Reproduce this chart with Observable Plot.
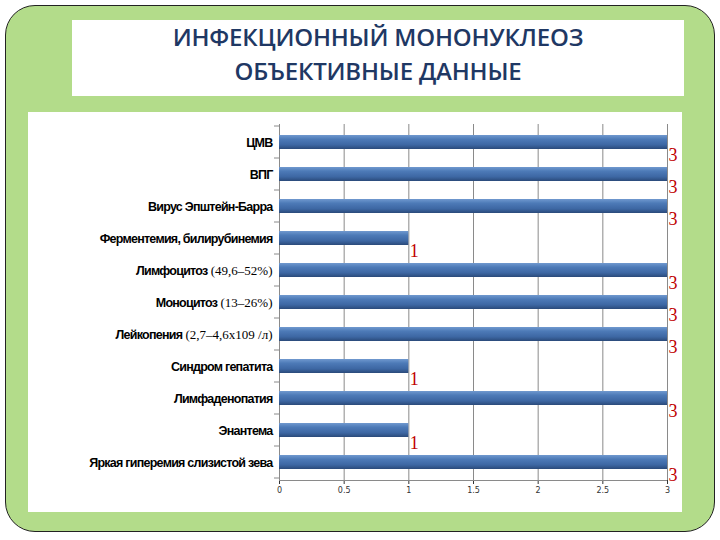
<!DOCTYPE html>
<html><head><meta charset="utf-8">
<script src="https://cdn.jsdelivr.net/npm/d3@7"></script>
<script src="https://cdn.jsdelivr.net/npm/@observablehq/plot@0.6"></script>
<style>
body{margin:0;width:720px;height:540px;background:#fff;position:relative;overflow:hidden}
#frame{position:absolute;left:5px;top:5px;width:710px;height:527px;background:#b3dc8a;border:1.5px solid #222;border-radius:30px;box-sizing:border-box}
#title{position:absolute;left:72px;top:20px;width:612px;height:76px;background:#fff;text-align:center;font-family:"Open Sans";font-weight:600;color:#1f3864;font-size:24px;line-height:34px;padding-top:0px;box-sizing:border-box;letter-spacing:-0.2px}
#panel{position:absolute;left:28px;top:112px;width:654px;height:400px;background:#fff}
#panel svg{overflow:visible;position:absolute;left:0;top:0}
</style></head>
<body>
<div id="frame"></div>
<div id="title">ИНФЕКЦИОННЫЙ МОНОНУКЛЕОЗ<br>ОБЪЕКТИВНЫЕ ДАННЫЕ</div>
<div id="panel"></div>
<script>
const mainLabels = ["ЦМВ","ВПГ","Вирус Эпштейн-Барра","Ферментемия, билирубинемия","Лимфоцитоз","Моноцитоз","Лейкопения","Синдром гепатита","Лимфаденопатия","Энантема","Яркая гиперемия слизистой зева"];
const noteLabels = ["","","","","(49,6–52%)","(13–26%)","(2,7–4,6х109 /л)","","","",""];
const values = [3,3,3,1,3,3,3,1,3,1,3];
const xTicks = [0,0.5,1,1.5,2,2.5,3];

const data = mainLabels.map((m,i)=>({cat: m + (noteLabels[i] ? " " + noteLabels[i] : ""), main: m, note: noteLabels[i], value: values[i]}));
const categories = data.map(d=>d.cat);

const defsMark = () => {
  const g = d3.create("svg:g");
  const grad = g.append("defs").append("linearGradient").attr("id","barGrad").attr("x1",0).attr("y1",0).attr("x2",0).attr("y2",1);
  [["0%","#7099cf"],["30%","#4d7ab7"],["70%","#3d67a3"],["100%","#2a4a7a"]].forEach(([o,c])=>grad.append("stop").attr("offset",o).attr("stop-color",c));
  return g.node();
};
const bottomLine = (index, scales, values, dims) => {
  const g = d3.create("svg:g");
  g.append("line").attr("x1",dims.marginLeft).attr("x2",dims.width-dims.marginRight)
   .attr("y1",dims.height-dims.marginBottom+0.5).attr("y2",dims.height-dims.marginBottom+0.5)
   .attr("stroke","#8a8a8a");
  return g.node();
};

const plot = Plot.plot({
  width: 654, height: 400,
  marginLeft: 251, marginRight: 15, marginTop: 12, marginBottom: 32,
  style: {background: "transparent", overflow: "visible", fontFamily: "DejaVu Sans", fontSize: "8px", color: "#333"},
  x: {domain: [0,3], ticks: xTicks, tickFormat: d=>String(d), tickSize: 4, tickPadding: 3, label: null},
  y: {domain: categories, paddingInner: 0.57, paddingOuter: 0.285, axis: null},
  marks: [
    defsMark,
    Plot.ruleX(xTicks, {stroke: "#8a8a8a", strokeWidth: 1}),
    bottomLine,
    Plot.barX(data, {x: "value", y: "cat", fill: "url(#barGrad)"}),
    Plot.text(data, {x: "value", y: "cat", text: d=>String(d.value), textAnchor: "start", dx: 1, dy: 13, fill: "#c00000", fontSize: 18, fontFamily: "Liberation Serif"}),
    Plot.text(data, {x: 0, y: "cat", text: "main", textAnchor: "end", dx: -7, fontSize: 12.5, fontWeight: "bold", fontFamily: "Liberation Sans", fill: "#000"})
  ]
});
document.getElementById("panel").appendChild(plot);

// condensed bold look + serif parenthetical parts
d3.select(plot).selectAll("text").each(function(){
  const t = d3.select(this);
  const i = mainLabels.indexOf(this.textContent);
  if (i < 0) return;
  t.attr("letter-spacing", "-0.75px");
  const d = data[i];
  if (d.note) {
    t.append("tspan").attr("font-family","Liberation Serif").attr("font-weight","normal").attr("letter-spacing","0px").attr("font-size","13px").text(" " + d.note);
  }
});
// boundary ticks on the category axis
const ys = plot.scale("y"), xs = plot.scale("x");
const x0 = xs.apply(0);
const first = ys.apply(categories[0]) + ys.bandwidth/2 - ys.step/2;
const tg = d3.select(plot).append("g").attr("stroke","#8a8a8a");
for (let i = 0; i <= categories.length; i++) {
  const y = first + i*ys.step;
  tg.append("line").attr("x1", x0-5).attr("x2", x0).attr("y1", y).attr("y2", y);
}
</script>
</body></html>
